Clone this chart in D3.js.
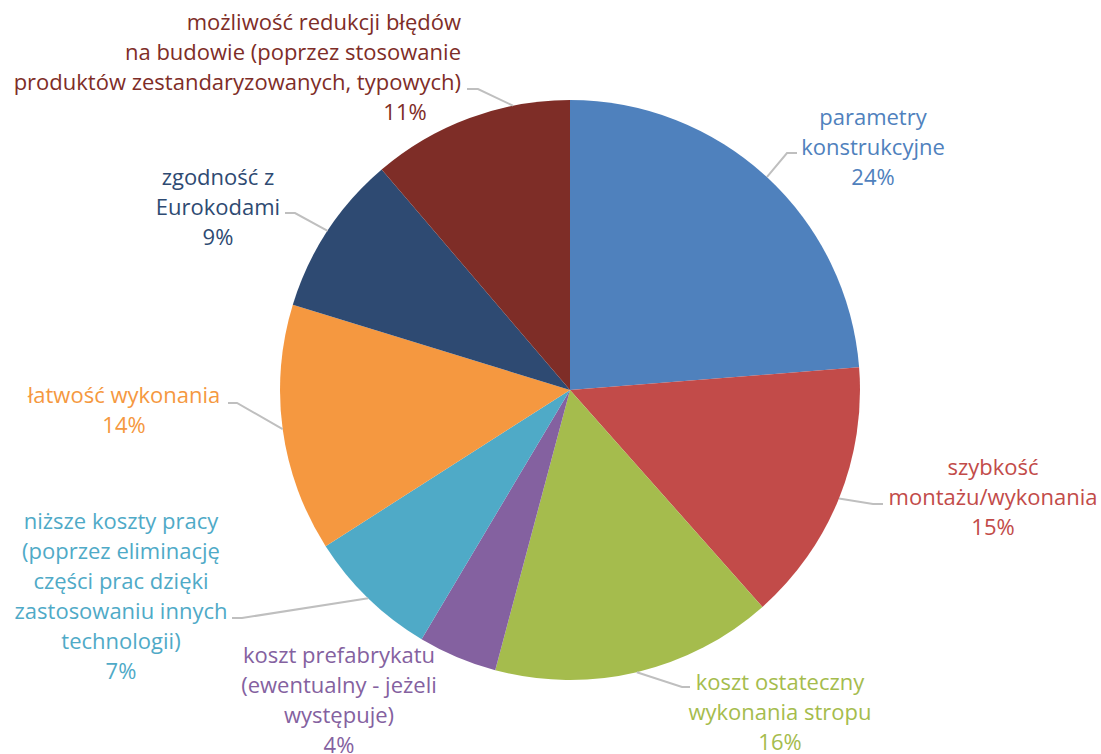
<!DOCTYPE html>
<html>
<head>
<meta charset="utf-8">
<script src="https://cdn.jsdelivr.net/npm/d3@7"></script>
<style>
  body { margin: 0; background: #fff; }
  svg { display: block; font-family: 'Open Sans', sans-serif; }
</style>
</head>
<body>
<svg id="pie_svg" width="1101" height="754"></svg>
<script>
// slices go clockwise from 12 o'clock
const categories = [
  'parametry\nkonstrukcyjne',
  'szybkość\nmontażu/wykonania',
  'koszt ostateczny\nwykonania stropu',
  'koszt prefabrykatu\n(ewentualny - jeżeli\nwystępuje)',
  'niższe koszty pracy\n(poprzez eliminację\nczęści prac dzięki\nzastosowaniu innych\ntechnologii)',
  'łatwość wykonania',
  'zgodność z\nEurokodami',
  'możliwość redukcji błędów\nna budowie (poprzez stosowanie\nproduktów zestandaryzowanych, typowych)'
]
const values = [23.75, 14.7, 15.7, 4.4, 7.4, 13.8, 9.0, 11.25]
const pctLabels = ['24%', '15%', '16%', '4%', '7%', '14%', '9%', '11%']
const colors = ['#4f81bd', '#c24b49', '#a5bc4d', '#8461a0', '#4faac7', '#f59840', '#2e4a72', '#7e2d27']

// label placement (manual, like the original)
const labelLayout = [
  {x: 873, y: 125, anchor: 'middle', knee: [787, 153], tail: 797},
  {x: 993, y: 475, anchor: 'middle', knee: [873, 504], tail: 883},
  {x: 780, y: 690, anchor: 'middle', knee: [682, 687], tail: 690},
  {x: 339, y: 663, anchor: 'middle', knee: null},
  {x: 121, y: 529, anchor: 'middle', knee: [242, 618], tail: 232},
  {x: 124, y: 403, anchor: 'middle', knee: [237, 403], tail: 228},
  {x: 218, y: 185, anchor: 'middle', knee: [295, 213], tail: 285},
  {x: 461, y: 30, anchor: 'end', pctX: 405, knee: [478, 89], tail: 467, at: 0.72}
]

const cx = 570, cy = 390, radius = 290
const lineH = 30
const fontSize = 22

const svg = d3.select('#pie_svg')
const g = svg.append('g').attr('transform', `translate(${cx},${cy})`)

const pie = d3.pie().sort(null).value(d => d)
const arcs = pie(values)
const arc = d3.arc().innerRadius(0).outerRadius(radius)

g.selectAll('path.slice')
  .data(arcs)
  .join('path')
  .attr('class', 'slice')
  .attr('d', arc)
  .attr('fill', (d, i) => colors[i])

// leader lines
arcs.forEach((a, i) => {
  const lay = labelLayout[i]
  if (!lay.knee) return
  const t = lay.at === undefined ? 0.5 : lay.at
  const ang = a.startAngle + t * (a.endAngle - a.startAngle)
  const px = cx + radius * Math.sin(ang)
  const py = cy - radius * Math.cos(ang)
  svg.append('path')
    .attr('d', d3.line()([[lay.tail, lay.knee[1]], lay.knee, [px, py]]))
    .attr('fill', 'none')
    .attr('stroke', '#bfbfbf')
    .attr('stroke-width', 2)
})

// labels
categories.forEach((cat, i) => {
  const lay = labelLayout[i]
  const lines = cat.split('\n')
  lines.forEach((ln, j) => {
    svg.append('text')
      .attr('x', lay.x)
      .attr('y', lay.y + j * lineH)
      .attr('text-anchor', lay.anchor)
      .attr('font-size', fontSize)
      .attr('fill', colors[i])
      .text(ln)
  })
  svg.append('text')
    .attr('x', lay.pctX !== undefined ? lay.pctX : lay.x)
    .attr('y', lay.y + lines.length * lineH)
    .attr('text-anchor', 'middle')
    .attr('font-size', fontSize)
    .attr('fill', colors[i])
    .text(pctLabels[i])
})
</script>
</body>
</html>
